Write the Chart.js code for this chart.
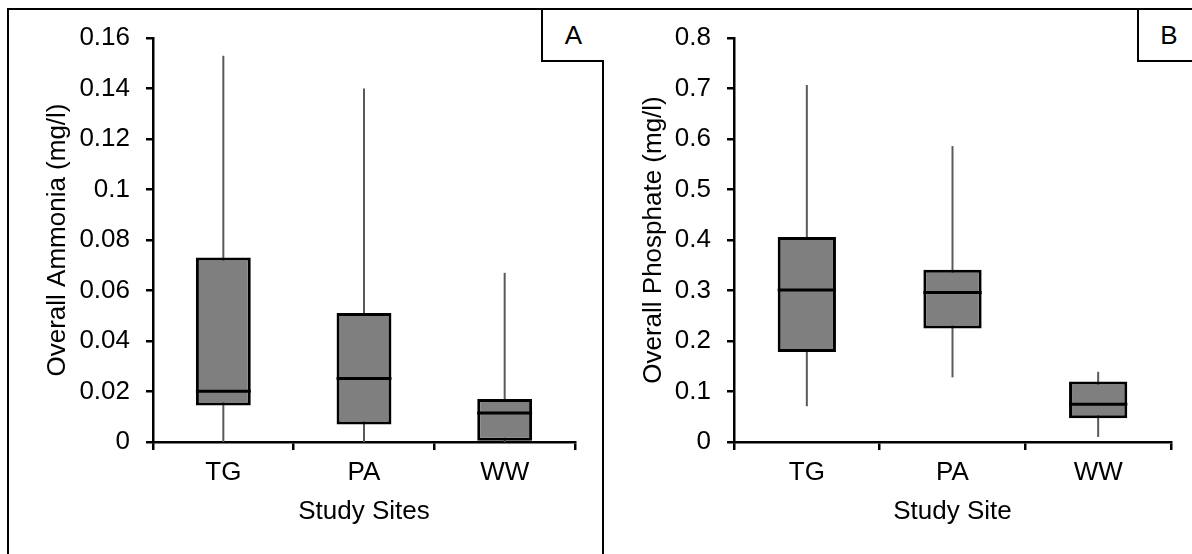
<!DOCTYPE html>
<html>
<head>
<meta charset="utf-8">
<script src="https://cdn.jsdelivr.net/npm/chart.js@4"></script>
<style>
  html, body { margin: 0; padding: 0; background: #fff; }
  body { width: 1192px; height: 554px; position: relative; overflow: hidden; font-family: "Liberation Sans", Arial, sans-serif; }
  canvas { position: absolute; top: 0; }
  .frame { position: absolute; left: 7px; top: 8px; width: 1300px; height: 700px; border-left: 2px solid #000; border-top: 2px solid #000; }
  .divider { position: absolute; left: 602px; top: 8px; width: 2px; height: 600px; background: #000; }
  .tag { position: absolute; top: 10px; height: 50px; background: #fff; border-left: 2px solid #000; border-bottom: 2px solid #000;
         display: flex; align-items: center; justify-content: center; font-size: 26px; color: #000; }
</style>
</head>
<body>
<canvas id="ammonia" width="600" height="554" style="left:0px;width:600px;height:554px"></canvas>
<canvas id="phosphate" width="592" height="554" style="left:600px;width:592px;height:554px"></canvas>
<div class="frame"></div>
<div class="divider"></div>
<div class="tag" style="left:541px;width:61px">A</div>
<div class="tag" style="left:1137px;width:60px;border-right:2px solid #000">B</div>
<script>
const sites = ["TG", "PA", "WW"];

// panel A - ammonia (mg/l)
const ammoniaMin = [0, 0, 0];
const ammoniaQ1 = [0.0145, 0.0069, 0];
const ammoniaMedian = [0.0201, 0.0251, 0.0115];
const ammoniaQ3 = [0.0731, 0.0511, 0.017];
const ammoniaMax = [0.153, 0.14, 0.067];

// panel B - phosphate (mg/l)
const phosphateMin = [0.071, 0.128, 0.01];
const phosphateQ1 = [0.178, 0.225, 0.047];
const phosphateMedian = [0.301, 0.296, 0.075];
const phosphateQ3 = [0.406, 0.341, 0.12];
const phosphateMax = [0.707, 0.586, 0.139];

const FONT = "'Liberation Sans', Arial, sans-serif";

// whiskers go under the boxes, medians on top
const boxPlotPlugin = {
  id: "boxPlot",
  beforeDatasetsDraw(chart, args, opts) {
    const { ctx } = chart;
    const y = chart.scales.y;
    const meta = chart.getDatasetMeta(0);
    ctx.save();
    ctx.strokeStyle = "#5a5a5a";
    ctx.lineWidth = 2;
    meta.data.forEach((bar, i) => {
      ctx.beginPath();
      ctx.moveTo(bar.x, y.getPixelForValue(opts.min[i]));
      ctx.lineTo(bar.x, y.getPixelForValue(opts.max[i]));
      ctx.stroke();
    });
    ctx.restore();
  },
  afterDatasetsDraw(chart, args, opts) {
    const { ctx } = chart;
    const y = chart.scales.y;
    const meta = chart.getDatasetMeta(0);
    ctx.save();
    ctx.strokeStyle = "#000";
    ctx.lineWidth = 3;
    meta.data.forEach((bar, i) => {
      const py = y.getPixelForValue(opts.median[i]);
      ctx.beginPath();
      ctx.moveTo(bar.x - bar.width / 2, py);
      ctx.lineTo(bar.x + bar.width / 2, py);
      ctx.stroke();
    });
    ctx.restore();
  },
};

function makeBoxChart(id, cfg) {
  const ctx = document.getElementById(id).getContext("2d");
  return new Chart(ctx, {
    type: "bar",
    data: {
      labels: sites,
      datasets: [
        {
          data: sites.map((s, i) => [cfg.q1[i], cfg.q3[i]]),
          backgroundColor: "#7f7f7f",
          borderColor: "#000",
          borderWidth: 3,
          borderSkipped: false,
          categoryPercentage: 1,
          barPercentage: cfg.barPct,
        },
      ],
    },
    options: {
      responsive: false,
      animation: false,
      layout: { padding: { top: 38, right: cfg.padRight, bottom: 0, left: 0 } },
      plugins: {
        legend: { display: false },
        tooltip: { enabled: false },
        boxPlot: { min: cfg.min, median: cfg.median, max: cfg.max },
      },
      scales: {
        x: {
          grid: { drawOnChartArea: false, tickLength: 8, color: "#000", lineWidth: 2.5 },
          border: { color: "#000", width: 2.5 },
          ticks: { color: "#000", padding: 7, font: { family: FONT, size: 26 } },
          title: {
            display: true,
            text: cfg.xTitle,
            color: "#000",
            font: { family: FONT, size: 26 },
            padding: { top: 0, bottom: 27 },
          },
          afterFit: (scale) => { scale.height = 112; },
        },
        y: {
          min: 0,
          max: cfg.yMax,
          grid: { drawOnChartArea: false, tickLength: 7, color: "#000", lineWidth: 2.5 },
          border: { color: "#000", width: 2.5 },
          ticks: {
            stepSize: cfg.step,
            color: "#000",
            padding: 16,
            font: { family: FONT, size: 26 },
            callback: (v) => String(+v.toFixed(cfg.digits)),
          },
          title: {
            display: true,
            text: cfg.yTitle,
            color: "#000",
            font: { family: FONT, size: 26 },
            padding: { top: cfg.titlePad, bottom: 0 },
          },
          afterFit: (scale) => { scale.width = cfg.yWidth; },
        },
      },
    },
    plugins: [boxPlotPlugin],
  });
}

makeBoxChart("ammonia", {
  min: ammoniaMin, q1: ammoniaQ1, median: ammoniaMedian, q3: ammoniaQ3, max: ammoniaMax,
  yMax: 0.16, step: 0.02, digits: 2,
  yTitle: "Overall Ammonia (mg/l)", xTitle: "Study Sites",
  yWidth: 153, padRight: 25, titlePad: 42, barPct: 0.39,
});

makeBoxChart("phosphate", {
  min: phosphateMin, q1: phosphateQ1, median: phosphateMedian, q3: phosphateQ3, max: phosphateMax,
  yMax: 0.8, step: 0.1, digits: 1,
  yTitle: "Overall Phosphate (mg/l)", xTitle: "Study Site",
  yWidth: 134, padRight: 21, titlePad: 38, barPct: 0.4,
});
</script>
</body>
</html>
